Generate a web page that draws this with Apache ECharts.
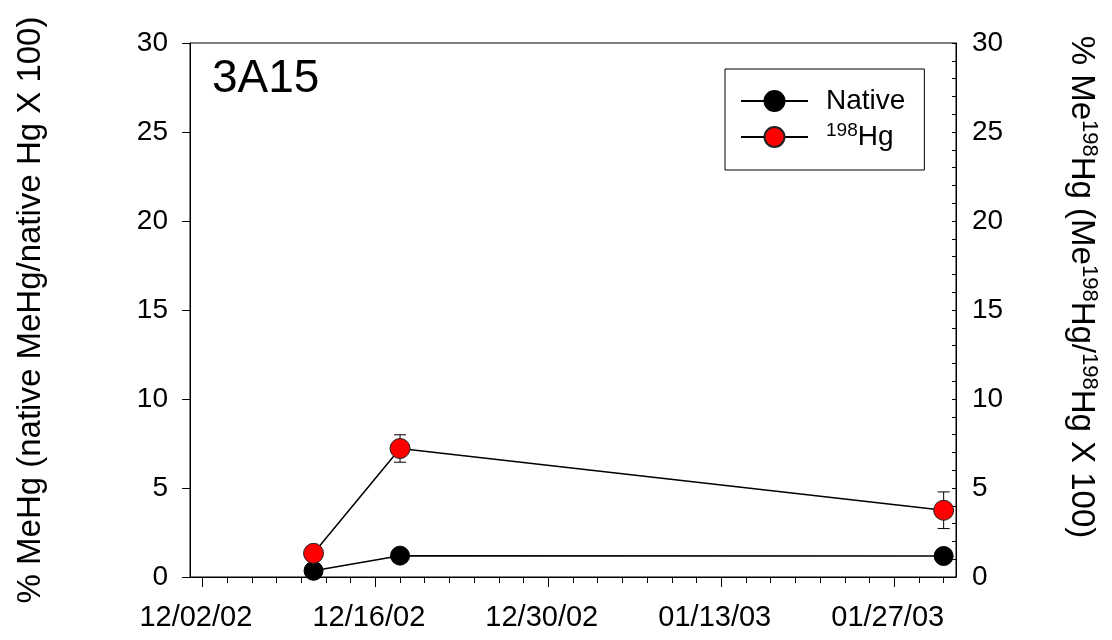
<!DOCTYPE html>
<html>
<head>
<meta charset="utf-8">
<script src="https://cdn.jsdelivr.net/npm/echarts@6/dist/echarts.min.js"></script>
<style>
  html, body { margin: 0; padding: 0; background: #fff; }
  #chart { width: 1112px; height: 640px; }
</style>
</head>
<body>
<div id="chart"></div>
<script>
// Sampling dates and measured % methylation
const sampleDates = ['12/11/02', '12/18/02', '01/31/03'];
const nativeValues = [0.35, 1.2, 1.18];
const hg198Values = [1.33, 7.22, 3.75];
const hg198Errors = [0, 0.77, 1.03];

// Axis extent and labelled dates
const axisStartDate = '12/01/02';
const axisEndDate = '02/01/03';
const xTickLabels = ['12/02/02', '12/16/02', '12/30/02', '01/13/03', '01/27/03'];
const minorTickStepDays = 2;
const yMax = 30;
const yStep = 5;

const FONT = '"Liberation Sans", Arial, Helvetica, sans-serif';

function dayNumber(s) {
  const [m, d, y] = s.split('/').map(Number);
  return Date.UTC(2000 + y, m - 1, d) / 86400000;
}
const day0 = dayNumber(axisStartDate);
const toX = s => dayNumber(s) - day0;

const xMax = toX(axisEndDate);
const majorTicks = xTickLabels.map(toX);
const minorTicks = [];
for (let d = majorTicks[0]; d <= xMax; d += minorTickStepDays) {
  if (majorTicks.indexOf(d) < 0) minorTicks.push(d);
}

const sampleX = sampleDates.map(toX);
const nativeData = sampleX.map((x, i) => [x, nativeValues[i]]);
const hgData = sampleX.map((x, i) => [x, hg198Values[i]]);
const errData = sampleX.map((x, i) => [x, hg198Values[i], hg198Errors[i]]);

const chart = echarts.init(document.getElementById('chart'));

const legendRich = {
  t: { fontFamily: FONT, fontSize: 28, color: '#000', lineHeight: 32 },
  s: { fontFamily: FONT, fontSize: 19, color: '#000', verticalAlign: 'top', lineHeight: 19 }
};
const titleRich = {
  t: { fontFamily: FONT, fontSize: 33, color: '#000', lineHeight: 38 },
  s: { fontFamily: FONT, fontSize: 22, color: '#000', verticalAlign: 'top', lineHeight: 22 }
};

const noMinor = { show: false };
const blackLine = { show: true, onZero: false, lineStyle: { color: '#000', width: 1 } };

chart.setOption({
  animation: false,
  backgroundColor: '#fff',
  grid: {
    left: 190, right: 156, top: 43, bottom: 63,
    show: true, borderColor: '#000', borderWidth: 1, backgroundColor: 'transparent'
  },
  legend: {
    orient: 'vertical',
    left: 725, top: 69,
    padding: [18, 19, 19, 15],
    itemGap: 6,
    itemWidth: 67,
    itemHeight: 25,
    borderColor: '#000', borderWidth: 1,
    backgroundColor: '#fff',
    data: ['Native', '198Hg'],
    formatter: name => name === '198Hg' ? '{s|198}{t|Hg}' : '{t|Native}',
    textStyle: { padding: [0, 0, 0, 13], rich: legendRich }
  },
  graphic: [{
    type: 'text', left: 212, top: 56, z: 10,
    style: { text: '3A15', fontFamily: FONT, fontSize: 46, fill: '#000' }
  }],
  xAxis: [{
    type: 'value', min: 0, max: xMax, position: 'bottom',
    axisLine: blackLine,
    axisTick: { show: true, customValues: majorTicks, length: 10, lineStyle: { color: '#000' } },
    minorTick: noMinor,
    axisLabel: {
      customValues: majorTicks, margin: 26,
      fontFamily: FONT, fontSize: 29, color: '#000',
      padding: [0, 13, 0, 0],
      formatter: v => xTickLabels[majorTicks.indexOf(v)] || ''
    },
    splitLine: { show: false }
  }, {
    type: 'value', min: 0, max: xMax, position: 'bottom',
    axisLine: { show: false, onZero: false },
    axisTick: { show: true, customValues: minorTicks, length: 6, lineStyle: { color: '#000' } },
    minorTick: noMinor,
    axisLabel: { show: false },
    splitLine: { show: false }
  }],
  yAxis: [{
    type: 'value', min: 0, max: yMax, interval: yStep, position: 'left',
    axisLine: blackLine,
    axisTick: { show: true, length: 8, lineStyle: { color: '#000' } },
    minorTick: noMinor,
    axisLabel: { margin: 22, fontFamily: FONT, fontSize: 28, color: '#000' },
    splitLine: { show: false },
    name: '% MeHg (native MeHg/native Hg X 100)',
    nameLocation: 'middle', nameRotate: 90, nameGap: 143,
    nameTextStyle: { fontFamily: FONT, fontSize: 33, color: '#000' }
  }, {
    type: 'value', min: 0, max: yMax, interval: yStep, position: 'right',
    axisLine: blackLine,
    axisTick: { show: true, inside: true, length: 4, lineStyle: { color: '#000' } },
    minorTick: { show: true, splitNumber: 5, length: 4, lineStyle: { color: '#000' } },
    axisLabel: { margin: 16, fontFamily: FONT, fontSize: 28, color: '#000' },
    splitLine: { show: false },
    name: '{t|% Me}{s|198}{t|Hg (Me}{s|198}{t|Hg/}{s|198}{t|Hg X 100)}',
    nameLocation: 'middle', nameRotate: -90, nameGap: 106,
    nameTextStyle: { rich: titleRich, padding: [0, 46, 0, 0] }
  }],
  series: [{
    type: 'custom', name: 'err', z: 1, xAxisIndex: 0, yAxisIndex: 0,
    data: errData,
    encode: { x: 0, y: 1 },
    renderItem: (params, api) => {
      const x = api.value(0), y = api.value(1), e = api.value(2);
      if (!e) return null;
      const top = api.coord([x, y + e]);
      const bot = api.coord([x, y - e]);
      const h = 6;
      const st = { stroke: '#000', lineWidth: 1 };
      return {
        type: 'group',
        children: [
          { type: 'line', shape: { x1: top[0], y1: top[1], x2: bot[0], y2: bot[1] }, style: st },
          { type: 'line', shape: { x1: top[0] - h, y1: top[1], x2: top[0] + h, y2: top[1] }, style: st },
          { type: 'line', shape: { x1: bot[0] - h, y1: bot[1], x2: bot[0] + h, y2: bot[1] }, style: st }
        ]
      };
    }
  }, {
    type: 'line', name: 'Native', z: 2, xAxisIndex: 0, yAxisIndex: 0,
    data: nativeData,
    symbol: 'circle', symbolSize: 19,
    lineStyle: { color: '#000', width: 1.5 },
    itemStyle: { color: '#000', borderColor: '#000', borderWidth: 1 }
  }, {
    type: 'line', name: '198Hg', z: 3, xAxisIndex: 0, yAxisIndex: 0,
    data: hgData,
    symbol: 'circle', symbolSize: 20,
    lineStyle: { color: '#000', width: 1.5 },
    itemStyle: { color: '#ff0000', borderColor: '#222', borderWidth: 1 }
  }]
});
</script>
</body>
</html>
